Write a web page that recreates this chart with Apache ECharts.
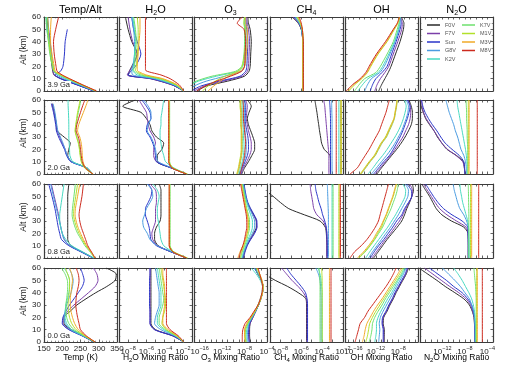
<!DOCTYPE html>
<html><head><meta charset="utf-8">
<script src="https://cdn.jsdelivr.net/npm/echarts@6/dist/echarts.min.js"></script>
<style>html,body{margin:0;padding:0;background:#fff}#c{width:520px;height:365px}</style>
</head><body><div id="c"></div>
<script>
// ---------- labels ----------
const stars = ['F0V','F7V','Sun','G8V','K2V','K7V','M1V','M3V','M8V'];
const ages = ['3.9 Ga','2.0 Ga','0.8 Ga','0.0 Ga'];
const tempTicks = [150,200,250,300,350];
const h2oTicks = [-8,-6,-4,-2];   // log10 exponents
const o3Ticks = [-16,-12,-8,-4];
const ch4Ticks = [-8,-6,-4,-2];
const ohTicks = [-16,-12,-8];
const n2oTicks = [-12,-8,-4];

// ---------- 3.9 Ga ----------
const altTempA = [0,5,10,13,16,20,30,40,50,60];
const tempA = [
 [287,242,197,178,174,172,168,166,161,158],
 [287,241,196,177,175,173,170,167,163,160],
 [286,240,195,180,195,202,206,208,214,null],
 [289,246,204,185,177,175,170,166,160,157],
 [290,250,210,190,178,175,168,163,158,156],
 [291,252,214,193,177,173,166,162,158,155],
 [292,254,217,196,178,175,168,164,162,160],
 [293,255,218,198,181,178,172,168,168,170],
 [294,256,220,200,186,183,178,176,182,190]];
const altH2OA = [0,5,10,13,17,20,30,40,50,60];
const h2oA = [
 [-1.9,-3.2,-5.5,-8.0,-7.8,-7.6,-7.0,-7.6,-8.0,-8.3],
 [-1.9,-3.2,-5.6,-8.1,-7.8,-7.5,-7.0,-7.5,-7.8,-8.0],
 [-1.9,-3.1,-5.4,-8.0,-7.6,-7.2,-6.6,-7.0,-7.4,-7.6],
 [-1.9,-3.0,-5.2,-7.5,-7.6,-7.5,-7.3,-7.3,-7.4,-7.6],
 [-1.9,-2.9,-4.9,-7.0,-7.5,-7.4,-7.3,-7.2,-7.3,-7.5],
 [-1.9,-2.8,-4.6,-6.6,-7.4,-7.3,-7.2,-7.1,-7.2,-7.4],
 [-1.9,-2.7,-4.4,-6.3,-7.2,-7.1,-7.0,-6.9,-6.9,-7.0],
 [-1.9,-2.6,-4.2,-6.0,-7.0,-7.0,-6.9,-6.8,-6.7,-6.7],
 [-1.9,-2.4,-3.4,-4.4,-6.1,-6.1,-6.1,-6.1,-6.1,-6.1]];
const altO3A = [0,4,8,12,16,20,30,40,50,55,60];
const o3A = [
 [-16.5,-14.8,-11.0,-8.0,-7.2,-7.0,-6.9,-6.8,-7.0,-7.3,-7.4],
 [-17.0,-15.2,-11.8,-8.4,-7.5,-7.3,-7.2,-7.1,-7.3,-7.5,-7.6],
 [-17.5,-15.8,-12.5,-8.8,-7.8,-7.6,-7.5,-7.4,-7.6,-7.7,-7.8],
 [-18.0,-17.0,-14.8,-11.5,-8.6,-8.0,-7.8,-7.7,-7.8,-7.9,-7.9],
 [-18.5,-18.0,-16.2,-13.0,-9.2,-8.3,-8.0,-7.9,-7.9,-8.0,-7.9],
 [-18.5,-18.0,-16.6,-13.8,-9.6,-8.5,-8.1,-8.0,-8.0,-8.1,-8.0],
 [-15.5,-14.5,-13.2,-11.5,-9.2,-8.4,-8.0,-7.8,-7.8,-8.1,-8.0],
 [-14.5,-13.5,-12.3,-10.8,-8.8,-8.0,-7.7,-7.5,-7.5,-7.8,-7.8],
 [-16.5,-15.0,-13.0,-10.5,-8.5,-8.0,-7.9,-7.8,-8.1,-9.3,-8.4]];
const altCH4A = [0,10,20,30,40,45,50,55,60];
const ch4A = [
 [-5.85,-5.85,-5.85,-5.85,-5.85,-5.9,-6.0,-6.3,-6.9],
 [-5.85,-5.85,-5.85,-5.85,-5.85,-5.9,-6.0,-6.25,-6.8],
 [-5.85,-5.85,-5.85,-5.85,-5.85,-5.9,-6.0,-6.2,-6.7],
 [-5.85,-5.85,-5.85,-5.85,-5.85,-5.9,-5.95,-6.2,-6.6],
 [-5.85,-5.85,-5.85,-5.85,-5.85,-5.9,-5.95,-6.15,-6.5],
 [-5.85,-5.85,-5.85,-5.85,-5.85,-5.85,-5.95,-6.1,-6.4],
 [-5.85,-5.85,-5.85,-5.85,-5.85,-5.85,-5.9,-6.1,-6.4],
 [-5.85,-5.85,-5.85,-5.85,-5.85,-5.85,-5.9,-6.05,-6.3],
 [-5.8,-5.8,-5.8,-5.8,-5.8,-5.85,-5.9,-6.0,-6.2]];
const altOHA = [0,5,10,15,20,30,40,50,55,60];
const ohA = [
 [-11.5,-11.0,-10.4,-9.8,-9.3,-8.5,-7.7,-7.1,-7.0,-7.5],
 [-12.2,-11.8,-11.2,-10.4,-9.7,-8.9,-8.1,-7.4,-7.3,-7.6],
 [-13.0,-12.6,-12.0,-10.9,-10.0,-9.2,-8.4,-7.7,-7.5,-7.7],
 [-14.0,-13.5,-12.8,-11.3,-10.5,-9.5,-8.6,-7.9,-7.7,-7.7],
 [-15.2,-14.4,-13.4,-11.6,-10.8,-9.7,-8.7,-8.0,-7.8,-7.7],
 [-15.8,-15.0,-14.0,-12.0,-11.2,-10.0,-8.9,-8.2,-7.9,-7.7],
 [-16.8,-15.8,-14.5,-13.5,-12.9,-11.6,-10.0,-8.7,-8.1,-7.8],
 [-17.0,-16.0,-14.6,-13.6,-13.0,-11.7,-10.1,-8.8,-8.1,-7.8],
 [-17.3,-16.2,-14.8,-13.8,-13.2,-11.9,-10.3,-8.9,-8.2,-7.8]];

// ---------- 2.0 Ga ----------
const altTempB = [0,5,10,15,20,25,30,35,40,50,57,60];
const tempB = [
 [282,268,226,215,218,222,205,186,184,178,173,null],
 [281,267,224,213,208,200,193,186,184,178,172,null],
 [281,266,223,212,206,198,190,184,182,176,170,null],
 [282,267,225,214,208,202,195,188,185,180,175,null],
 [284,268,229,221,220,219,218,218,218,217,216,216],
 [284,262,253,250,248,245,240,236,238,244,249,250],
 [283,261,252,249,247,244,239,235,237,242,247,248],
 [285,264,257,255,254,252,248,242,245,258,267,270],
 [284,263,255,252,250,248,244,238,240,250,258,262]];
const altH2OB = [0,5,10,15,20,25,30,35,40,45,50,55,60];
const h2oB = [
 [-1.6,-3.3,-4.8,-4.8,-4.3,-4.1,-4.9,-5.4,-5.6,-6.0,-6.6,-8.6,-7.2],
 [-1.6,-3.3,-4.9,-5.2,-5.2,-5.0,-5.2,-5.6,-5.8,-5.9,-6.0,-6.4,-6.8],
 [-1.6,-3.3,-4.9,-5.0,-5.1,-5.3,-5.6,-6.0,-5.9,-5.5,-5.6,-6.0,-6.5],
 [-1.6,-3.2,-4.7,-4.9,-5.0,-5.2,-5.5,-5.9,-5.8,-5.5,-5.5,-5.8,-6.3],
 [-1.6,-3.0,-3.9,-4.1,-4.3,-4.4,-4.5,-4.5,-4.4,-4.4,-4.3,-4.2,-4.1],
 [-1.5,-3.1,-3.45,-3.45,-3.45,-3.45,-3.45,-3.45,-3.45,-3.45,-3.45,-3.45,-3.45],
 [-1.5,-3.1,-3.5,-3.5,-3.5,-3.5,-3.5,-3.5,-3.5,-3.5,-3.5,-3.5,-3.5],
 [-1.6,-3.2,-3.55,-3.55,-3.55,-3.55,-3.55,-3.55,-3.55,-3.55,-3.55,-3.55,-3.55],
 [-1.6,-3.2,-3.55,-3.55,-3.55,-3.55,-3.55,-3.55,-3.55,-3.55,-3.55,-3.55,-3.55]];
const altO3B = [0,5,10,15,20,25,30,35,40,45,50,55,60];
const o3B = [
 [-8.5,-8.0,-7.3,-6.7,-6.2,-6.2,-6.5,-6.9,-7.3,-7.5,-7.2,-6.8,-7.5],
 [-8.6,-8.2,-7.6,-7.1,-6.8,-6.8,-7.0,-7.3,-7.5,-7.7,-7.6,-7.5,-7.8],
 [-8.7,-8.4,-7.9,-7.5,-7.3,-7.3,-7.4,-7.6,-7.8,-7.9,-7.8,-7.8,-8.0],
 [-8.8,-8.5,-8.1,-7.8,-7.7,-7.7,-7.8,-7.9,-8.0,-8.0,-8.0,-8.0,-8.2],
 [-9.0,-8.7,-8.4,-8.2,-8.1,-8.1,-8.2,-8.2,-8.3,-8.3,-8.3,-8.3,-8.4],
 [-9.2,-8.9,-8.7,-8.5,-8.4,-8.4,-8.4,-8.5,-8.5,-8.5,-8.5,-8.6,-8.6],
 [-9.4,-9.1,-8.9,-8.7,-8.6,-8.6,-8.6,-8.6,-8.7,-8.7,-8.7,-8.8,-8.8],
 [-9.3,-9.0,-8.8,-8.6,-8.5,-8.5,-8.5,-8.5,-8.6,-8.6,-8.6,-8.7,-8.7],
 [-8.8,-8.5,-8.2,-8.0,-7.9,-7.8,-7.9,-8.0,-8.1,-8.2,-8.2,-8.2,-8.3]];
const altCH4B = [0,10,15,20,25,30,35,40,45,50,55,60];
const ch4B = [
 [-3.2,-3.2,-3.25,-3.8,-4.05,-4.15,-4.25,-4.33,-4.42,-4.5,-4.6,-4.7],
 [-3.35,-3.35,-3.35,-3.4,-3.45,-3.5,-3.55,-3.6,-3.65,-3.7,-3.75,-3.85],
 [-3.2,-3.2,-3.2,-3.2,-3.2,-3.2,-3.2,-3.2,-3.2,-3.22,-3.25,-3.3],
 [-3.05,-3.05,-3.05,-3.05,-3.05,-3.05,-3.05,-3.05,-3.05,-3.07,-3.08,-3.1],
 [-2.4,-2.4,-2.4,-2.4,-2.4,-2.4,-2.4,-2.4,-2.4,-2.4,-2.4,-2.4],
 [-2.25,-2.25,-2.25,-2.25,-2.25,-2.25,-2.25,-2.25,-2.25,-2.25,-2.25,-2.25],
 [-2.15,-2.15,-2.15,-2.15,-2.15,-2.15,-2.15,-2.15,-2.15,-2.15,-2.15,-2.15],
 [-2.2,-2.2,-2.2,-2.2,-2.2,-2.2,-2.2,-2.2,-2.2,-2.2,-2.2,-2.2],
 [-2.65,-2.65,-2.65,-2.65,-2.65,-2.65,-2.65,-2.65,-2.65,-2.65,-2.65,-2.65]];
const altOHB = [0,5,10,15,20,25,30,35,40,45,50,55,60];
const ohB = [
 [-11.8,-11.0,-10.1,-9.2,-8.3,-7.5,-6.8,-6.2,-5.7,-5.5,-5.5,-5.7,-6.1],
 [-12.1,-11.2,-10.3,-9.4,-8.6,-7.9,-7.2,-6.7,-6.2,-5.9,-5.8,-5.9,-6.3],
 [-12.4,-11.5,-10.6,-9.6,-8.9,-8.3,-7.7,-7.2,-6.8,-6.4,-6.1,-5.9,-6.4],
 [-12.8,-11.9,-11.0,-10.1,-9.3,-8.6,-8.0,-7.4,-7.0,-6.6,-6.3,-6.2,-6.6],
 [-13.4,-12.5,-11.7,-10.8,-10.0,-9.3,-8.6,-8.0,-7.5,-7.1,-6.8,-6.6,-6.9],
 [-14.6,-13.8,-13.0,-12.1,-11.5,-10.9,-10.1,-9.6,-9.1,-8.7,-8.5,-8.3,-8.2],
 [-14.8,-14.0,-13.2,-12.3,-11.7,-11.1,-10.3,-9.8,-9.3,-8.8,-8.6,-8.4,-8.25],
 [-14.7,-13.9,-13.1,-12.2,-11.6,-11.0,-10.2,-9.7,-9.2,-8.75,-8.55,-8.35,-8.2],
 [-16.6,-15.3,-14.6,-13.9,-13.2,-12.6,-12.0,-11.4,-11.0,-10.6,-10.2,-9.9,-9.6]];
const altN2OB = [0,5,10,15,20,25,30,35,40,45,50,55,60];
const n2oB = [
 [-8.0,-8.1,-8.3,-9.5,-11.2,-12.1,-12.9,-13.5,-14.3,-15.0,-15.4,-15.8,-16.0],
 [-8.0,-8.1,-8.4,-9.6,-11.1,-12.1,-12.8,-13.5,-14.2,-14.9,-15.4,-15.6,-15.8],
 [-8.0,-8.05,-8.2,-9.0,-10.3,-11.5,-12.3,-13.0,-13.8,-14.5,-15.1,-15.5,-15.7],
 [-7.7,-7.75,-7.9,-8.2,-8.7,-9.0,-9.3,-9.7,-10.0,-10.4,-10.8,-11.1,-11.4],
 [-7.6,-7.6,-7.65,-7.75,-7.9,-8.1,-8.3,-8.5,-8.7,-8.9,-9.1,-9.3,-9.4],
 [-7.5,-7.5,-7.5,-7.5,-7.5,-7.55,-7.6,-7.6,-7.65,-7.7,-7.7,-7.75,-7.8],
 [-7.4,-7.4,-7.4,-7.4,-7.4,-7.4,-7.4,-7.4,-7.4,-7.4,-7.4,-7.4,-7.4],
 [-7.25,-7.25,-7.25,-7.25,-7.25,-7.25,-7.25,-7.25,-7.25,-7.25,-7.25,-7.25,-7.25],
 [-5.8,-5.8,-5.8,-5.8,-5.8,-5.8,-5.8,-5.8,-5.8,-5.8,-5.8,-5.8,-5.8]];

// ---------- 0.8 Ga ----------
const altTempC = [0,5,10,15,20,25,30,35,40,50,60];
const tempC = [
 [286,254,224,215,215,215,215,215,215,215,218],
 [285,252,220,206,200,196,193,190,186,178,170],
 [284,251,218,198,193,189,186,183,180,172,163],
 [285,253,221,205,200,196,192,188,184,176,168],
 [286,256,226,210,200,196,193,193,195,200,205],
 [288,276,262,252,242,235,230,227,228,232,236],
 [289,278,265,255,246,239,234,231,232,237,242],
 [290,279,267,258,250,243,238,235,236,242,248],
 [290,280,270,264,258,252,248,246,248,254,258]];
const altH2OC = [0,5,10,15,20,25,30,35,40,45,50,55,60];
const h2oC = [
 [-1.6,-3.3,-4.7,-5.1,-5.1,-4.9,-4.5,-4.4,-4.4,-4.4,-4.4,-4.4,-4.6],
 [-1.6,-3.3,-4.8,-5.3,-5.4,-5.2,-5.0,-5.0,-5.0,-4.9,-4.9,-5.0,-5.6],
 [-1.6,-3.3,-4.9,-5.5,-5.6,-5.7,-5.9,-6.1,-6.1,-5.8,-5.5,-5.4,-5.8],
 [-1.6,-3.2,-4.8,-5.6,-5.9,-6.3,-6.4,-6.2,-6.0,-5.6,-5.3,-5.4,-5.9],
 [-1.6,-3.1,-4.1,-4.4,-4.5,-4.6,-4.7,-4.8,-4.8,-4.7,-4.6,-4.8,-5.3],
 [-1.5,-3.0,-3.4,-3.4,-3.4,-3.4,-3.4,-3.4,-3.4,-3.4,-3.4,-3.4,-3.4],
 [-1.5,-3.0,-3.45,-3.45,-3.45,-3.45,-3.45,-3.45,-3.45,-3.45,-3.45,-3.45,-3.45],
 [-1.6,-3.1,-3.5,-3.5,-3.5,-3.5,-3.5,-3.5,-3.5,-3.5,-3.5,-3.5,-3.5],
 [-1.6,-3.1,-3.5,-3.5,-3.5,-3.5,-3.5,-3.5,-3.5,-3.5,-3.5,-3.5,-3.5]];
const altO3C = [0,5,10,15,20,25,30,35,40,45,50,55,60];
const o3C = [
 [-8.3,-8.0,-7.6,-7.0,-6.4,-5.9,-5.9,-6.4,-7.0,-7.5,-7.8,-8.0,-8.2],
 [-8.3,-8.0,-7.6,-7.0,-6.3,-5.8,-5.9,-6.4,-7.0,-7.5,-7.8,-8.0,-8.2],
 [-8.2,-7.9,-7.5,-6.9,-6.2,-5.8,-5.8,-6.3,-6.9,-7.4,-7.7,-7.9,-8.1],
 [-8.4,-8.1,-7.7,-7.2,-6.6,-6.2,-6.2,-6.6,-7.1,-7.5,-7.8,-8.0,-8.2],
 [-8.5,-8.2,-7.8,-7.4,-6.9,-6.6,-6.6,-6.9,-7.3,-7.6,-7.9,-8.1,-8.3],
 [-8.7,-8.4,-8.0,-7.6,-7.3,-7.1,-7.1,-7.3,-7.6,-7.8,-8.0,-8.2,-8.4],
 [-8.8,-8.5,-8.1,-7.8,-7.5,-7.3,-7.3,-7.5,-7.7,-7.9,-8.1,-8.3,-8.5],
 [-9.2,-8.8,-8.3,-7.9,-7.6,-7.4,-7.4,-7.5,-7.8,-8.0,-8.2,-8.4,-8.6],
 [-9.0,-8.7,-8.3,-8.0,-7.8,-7.6,-7.6,-7.7,-7.9,-8.1,-8.3,-8.5,-8.7]];
const altCH4C = [0,10,20,25,30,35,40,45,50,55,60];
const ch4C = [
 [-3.55,-3.55,-3.6,-3.7,-4.2,-5.7,-7.2,-8.0,-8.7,-9.5,-10.3],
 [-3.55,-3.55,-3.55,-3.65,-3.9,-4.5,-4.8,-4.9,-5.0,-5.1,-5.15],
 [-3.5,-3.5,-3.55,-3.6,-3.75,-3.95,-4.1,-4.3,-4.45,-4.6,-4.67],
 [-3.4,-3.4,-3.4,-3.4,-3.4,-3.4,-3.42,-3.44,-3.46,-3.48,-3.5],
 [-3.05,-3.05,-3.05,-3.05,-3.05,-3.05,-3.05,-3.05,-3.05,-3.05,-3.05],
 [-2.95,-2.95,-2.95,-2.95,-2.95,-2.95,-2.95,-2.95,-2.95,-2.95,-2.95],
 [-2.4,-2.4,-2.4,-2.4,-2.4,-2.4,-2.4,-2.4,-2.4,-2.4,-2.4],
 [-2.3,-2.3,-2.3,-2.3,-2.3,-2.3,-2.3,-2.3,-2.3,-2.3,-2.3],
 [-2.25,-2.25,-2.25,-2.25,-2.25,-2.25,-2.25,-2.25,-2.25,-2.25,-2.25]];
const altOHC = [0,5,10,15,20,25,30,35,40,45,50,55,60];
const ohC = [
 [-12.4,-11.6,-10.8,-10.0,-9.1,-8.2,-7.4,-6.9,-6.5,-6.0,-5.6,-5.3,-5.5],
 [-12.7,-11.9,-11.1,-10.3,-9.4,-8.6,-7.8,-7.2,-6.7,-6.1,-5.6,-5.5,-6.0],
 [-13.0,-12.3,-11.5,-10.6,-9.8,-9.0,-8.3,-7.4,-6.9,-6.2,-5.6,-5.7,-6.5],
 [-13.3,-12.6,-11.8,-11.0,-10.2,-9.4,-8.7,-8.0,-7.4,-6.8,-6.3,-6.2,-6.8],
 [-13.8,-13.1,-12.3,-11.5,-10.7,-9.9,-9.2,-8.5,-7.9,-7.3,-6.8,-6.7,-7.2],
 [-15.0,-13.9,-13.0,-12.2,-11.5,-10.8,-10.3,-9.8,-9.3,-8.9,-8.5,-8.2,-8.0],
 [-15.1,-14.0,-13.1,-12.3,-11.7,-11.0,-10.6,-10.1,-9.7,-9.3,-8.9,-8.6,-8.3],
 [-15.3,-14.2,-13.3,-12.5,-11.9,-11.2,-10.7,-10.2,-9.8,-9.4,-9.0,-8.7,-8.4],
 [-16.6,-15.8,-14.6,-13.6,-12.8,-12.1,-11.55,-11.25,-10.95,-10.65,-10.35,-10.05,-9.75]];
const altN2OC = [0,10,20,25,30,35,40,45,50,55,60];
const n2oC = [
 [-7.4,-7.4,-7.45,-8.2,-10.4,-12.1,-13.1,-13.7,-14.3,-15.0,-15.7],
 [-7.4,-7.4,-7.45,-7.8,-9.5,-11.2,-12.5,-13.3,-14.0,-14.7,-15.4],
 [-7.4,-7.4,-7.45,-7.5,-8.5,-10.3,-11.8,-12.8,-13.6,-14.3,-15.0],
 [-7.3,-7.3,-7.35,-7.4,-7.7,-8.2,-8.9,-9.3,-9.6,-9.9,-10.1],
 [-7.3,-7.3,-7.3,-7.35,-7.5,-7.8,-8.1,-8.4,-8.6,-8.8,-8.9],
 [-7.3,-7.3,-7.3,-7.3,-7.3,-7.3,-7.32,-7.34,-7.36,-7.38,-7.4],
 [-7.0,-7.0,-7.0,-7.0,-7.0,-7.0,-7.0,-7.0,-7.0,-7.0,-7.0],
 [-6.8,-6.8,-6.8,-6.8,-6.8,-6.8,-6.8,-6.8,-6.8,-6.8,-6.8],
 [-5.55,-5.55,-5.55,-5.55,-5.55,-5.55,-5.55,-5.55,-5.55,-5.55,-5.55]];

// ---------- 0.0 Ga ----------
const altTempD = [0,5,10,15,20,25,30,35,40,45,50,55,60];
const tempD = [
 [287,258,225,205,205,222,240,265,292,322,345,348,320],
 [287,255,220,202,203,215,232,252,272,290,298,295,285],
 [287,254,218,200,202,210,220,232,244,255,260,256,250],
 [288,256,222,208,205,208,212,218,224,228,230,226,218],
 [288,258,226,212,208,208,210,214,218,220,220,215,205],
 [289,260,232,218,212,210,210,212,214,215,214,208,198],
 [289,262,238,226,220,217,216,217,219,220,220,215,208],
 [290,264,244,234,228,224,222,222,224,226,228,226,220],
 [290,266,250,246,242,239,237,238,240,244,246,244,238]];
const altH2OD = [0,5,10,15,20,25,30,35,40,45,50,55,60];
const h2oD = [
 [-1.9,-3.1,-5.0,-5.5,-5.5,-5.5,-5.5,-5.5,-5.5,-5.5,-5.5,-5.5,-5.5],
 [-1.9,-3.1,-5.1,-5.6,-5.6,-5.6,-5.6,-5.6,-5.6,-5.6,-5.6,-5.6,-5.6],
 [-1.9,-3.1,-5.1,-5.6,-5.6,-5.6,-5.65,-5.65,-5.65,-5.65,-5.65,-5.6,-5.6],
 [-1.9,-2.9,-4.4,-5.1,-5.0,-4.8,-4.6,-4.6,-4.6,-4.7,-4.8,-4.9,-5.0],
 [-1.9,-2.8,-4.1,-4.8,-4.8,-4.6,-4.4,-4.4,-4.4,-4.5,-4.6,-4.7,-4.8],
 [-1.9,-2.7,-3.9,-4.6,-4.6,-4.4,-4.2,-4.1,-4.2,-4.3,-4.4,-4.5,-4.6],
 [-1.9,-2.7,-3.8,-4.3,-4.2,-4.0,-3.9,-3.9,-4.0,-4.1,-4.2,-4.3,-4.4],
 [-1.9,-2.6,-3.6,-4.2,-4.2,-4.1,-4.0,-4.0,-4.0,-4.0,-4.1,-4.2,-4.2],
 [-1.9,-2.5,-3.4,-3.8,-3.8,-3.8,-3.8,-3.8,-3.8,-3.8,-3.8,-3.8,-3.8]];
const altO3D = [0,5,10,15,20,25,30,35,40,45,50,55,60];
const o3D = [
 [-7.0,-7.1,-7.1,-7.0,-6.5,-6.0,-5.5,-5.1,-4.8,-4.7,-5.0,-5.6,-6.2],
 [-7.1,-7.2,-7.2,-7.0,-6.5,-6.0,-5.5,-5.1,-4.8,-4.7,-5.0,-5.6,-6.2],
 [-7.2,-7.3,-7.3,-7.1,-6.6,-6.0,-5.5,-5.1,-4.8,-4.7,-5.0,-5.6,-6.2],
 [-7.4,-7.5,-7.4,-7.2,-6.6,-6.0,-5.5,-5.1,-4.8,-4.7,-5.0,-5.6,-6.3],
 [-7.6,-7.7,-7.6,-7.3,-6.7,-6.1,-5.6,-5.2,-4.9,-4.8,-5.2,-5.9,-6.8],
 [-7.8,-7.9,-7.8,-7.4,-6.8,-6.1,-5.6,-5.1,-4.8,-4.7,-5.0,-5.5,-6.0],
 [-7.7,-7.9,-7.9,-7.5,-6.8,-6.1,-5.5,-5.1,-4.8,-4.7,-4.9,-5.3,-5.8],
 [-7.9,-8.0,-8.0,-7.6,-6.9,-6.2,-5.6,-5.1,-4.8,-4.7,-4.9,-5.3,-5.7],
 [-8.4,-8.4,-8.3,-7.9,-7.0,-6.3,-5.6,-5.2,-4.9,-4.8,-5.0,-5.3,-5.6]];
const altCH4D = [0,10,20,30,35,40,45,50,55,60];
const ch4D = [
 [-5.5,-5.5,-5.5,-5.5,-5.55,-6.3,-7.3,-8.5,-9.5,-10.3],
 [-5.45,-5.45,-5.45,-5.45,-5.5,-5.8,-6.3,-6.9,-7.4,-7.9],
 [-5.4,-5.4,-5.4,-5.4,-5.45,-5.6,-6.0,-6.5,-7.0,-7.4],
 [-4.1,-4.1,-4.1,-4.1,-4.1,-4.12,-4.15,-4.2,-4.35,-4.6],
 [-4.0,-4.0,-4.0,-4.0,-4.0,-4.0,-4.05,-4.1,-4.2,-4.4],
 [-4.2,-4.2,-4.2,-4.2,-4.2,-4.2,-4.2,-4.22,-4.25,-4.3],
 [-4.0,-4.0,-4.0,-4.0,-4.0,-4.0,-4.0,-4.0,-4.02,-4.05],
 [-3.3,-3.3,-3.3,-3.3,-3.3,-3.3,-3.3,-3.3,-3.3,-3.3],
 [-3.15,-3.15,-3.15,-3.15,-3.15,-3.15,-3.15,-3.15,-3.15,-3.15]];
const altOHD = [0,5,10,15,20,25,30,35,40,45,50,55,60];
const ohD = [
 [-10.5,-10.5,-10.5,-10.7,-10.6,-10.0,-9.5,-8.9,-8.4,-7.8,-7.2,-6.6,-6.2],
 [-10.6,-10.6,-10.6,-10.8,-10.7,-10.1,-9.6,-9.0,-8.5,-7.9,-7.3,-6.7,-6.3],
 [-10.7,-10.7,-10.7,-10.9,-10.8,-10.2,-9.7,-9.1,-8.6,-8.0,-7.4,-6.8,-6.4],
 [-11.5,-11.4,-11.3,-11.4,-11.2,-10.7,-10.1,-9.5,-8.9,-8.3,-7.7,-7.1,-6.6],
 [-12.2,-12.0,-11.9,-11.9,-11.6,-11.1,-10.5,-9.9,-9.2,-8.6,-8.0,-7.3,-6.8],
 [-13.2,-12.9,-12.7,-12.6,-12.2,-11.6,-10.9,-10.3,-9.6,-8.9,-8.2,-7.5,-7.0],
 [-13.8,-13.5,-13.3,-13.1,-12.6,-12.0,-11.3,-10.6,-9.9,-9.2,-8.5,-7.8,-7.2],
 [-14.4,-14.1,-13.9,-13.6,-13.0,-12.4,-11.7,-10.9,-10.2,-9.5,-8.8,-8.1,-7.5],
 [-15.7,-15.4,-15.1,-14.8,-14.0,-13.4,-12.6,-11.8,-11.0,-10.2,-9.5,-8.9,-8.4]];
const altN2OD = [0,10,20,25,30,35,40,45,50,55,60];
const n2oD = [
 [-6.2,-6.25,-6.4,-6.7,-7.2,-8.2,-9.8,-11.5,-13.0,-14.6,-16.2],
 [-6.2,-6.25,-6.35,-6.6,-7.0,-7.8,-9.1,-10.7,-12.2,-13.7,-15.2],
 [-6.2,-6.2,-6.3,-6.5,-6.8,-7.5,-8.5,-10.0,-11.3,-12.8,-14.3],
 [-6.2,-6.2,-6.3,-6.45,-6.8,-7.2,-8.0,-8.8,-9.8,-10.9,-12.0],
 [-6.1,-6.1,-6.2,-6.3,-6.5,-6.8,-7.3,-7.9,-8.5,-9.2,-10.0],
 [-6.0,-6.0,-6.0,-6.0,-6.0,-6.0,-6.05,-6.1,-6.2,-6.3,-6.4],
 [-5.9,-5.9,-5.9,-5.9,-5.9,-5.9,-5.9,-5.9,-5.9,-5.9,-5.9],
 [-5.8,-5.8,-5.8,-5.8,-5.8,-5.8,-5.8,-5.8,-5.8,-5.8,-5.8],
 [-4.9,-4.9,-4.9,-4.9,-4.9,-4.9,-4.9,-4.9,-4.9,-4.9,-4.9]];

// ---------- layout / style ----------
const colors = ['#2a2a2a','#7b3fa8','#2a35c8','#4a9be0','#46d8c0','#6ee06e','#b2e02a','#f0aa28','#cc2a1e'];
const F = 'Liberation Sans, Arial, Helvetica, sans-serif';
const colLeft = [44,119,194,270,345,420];
const rowTop = [17,100,184,268];
const PW = 73, PH = 74;
const frameC = '#3c3c3c';
const xRange = [[150,350],[-9,-1],[-17,-4],[-9,-2],[-17.5,-4.5],[-16,-3]];
const xLabelVals = [tempTicks,h2oTicks,o3Ticks,ch4Ticks,ohTicks,n2oTicks];

const panels = [
 {r:0,c:0,alt:altTempA,v:tempA},{r:0,c:1,alt:altH2OA,v:h2oA},{r:0,c:2,alt:altO3A,v:o3A},{r:0,c:3,alt:altCH4A,v:ch4A},{r:0,c:4,alt:altOHA,v:ohA},
 {r:1,c:0,alt:altTempB,v:tempB},{r:1,c:1,alt:altH2OB,v:h2oB},{r:1,c:2,alt:altO3B,v:o3B},{r:1,c:3,alt:altCH4B,v:ch4B},{r:1,c:4,alt:altOHB,v:ohB},{r:1,c:5,alt:altN2OB,v:n2oB},
 {r:2,c:0,alt:altTempC,v:tempC},{r:2,c:1,alt:altH2OC,v:h2oC},{r:2,c:2,alt:altO3C,v:o3C},{r:2,c:3,alt:altCH4C,v:ch4C},{r:2,c:4,alt:altOHC,v:ohC},{r:2,c:5,alt:altN2OC,v:n2oC},
 {r:3,c:0,alt:altTempD,v:tempD},{r:3,c:1,alt:altH2OD,v:h2oD},{r:3,c:2,alt:altO3D,v:o3D},{r:3,c:3,alt:altCH4D,v:ch4D},{r:3,c:4,alt:altOHD,v:ohD},{r:3,c:5,alt:altN2OD,v:n2oD}
];

const supRich = {
  b:{fontSize:8,fontFamily:F,color:'#222',lineHeight:11,verticalAlign:'bottom'},
  s:{fontSize:5.5,fontFamily:F,color:'#222',lineHeight:11,verticalAlign:'top'}
};
const logFmt = v => '{b|10}{s|' + (v < 0 ? '\u2212' : '') + Math.abs(v) + '}';

const option = {animation:false, grid:[], xAxis:[], yAxis:[], series:[], graphic:[], legend:[]};

for (let r = 0; r < 4; r++) for (let c = 0; c < 6; c++) {
  const g = r*6 + c;
  option.grid.push({left:colLeft[c], top:rowTop[r], width:PW, height:PH});
  const [mn, mx] = xRange[c];
  const isTemp = c === 0;
  let tv;
  if (!isTemp) { tv = []; for (let k = Math.ceil(mn); k <= Math.floor(mx); k++) tv.push(k); }
  const mkX = (pos, showLab) => ({
    gridIndex:g, type:'value', position:pos, min:mn, max:mx,
    interval: isTemp ? 50 : undefined,
    axisLine:{show:true, onZero:false, lineStyle:{color:frameC, width:1.2}},
    axisTick:{show:true, inside:true, length:2.5, lineStyle:{color:frameC, width:0.8}, customValues: tv},
    minorTick:{show:isTemp, splitNumber:5, length:1.3, lineStyle:{color:frameC, width:0.6}},
    splitLine:{show:false},
    axisLabel:{show:showLab, margin:3, fontSize:8, color:'#222', fontFamily:F,
      customValues: isTemp ? undefined : xLabelVals[c],
      formatter: isTemp ? (v => String(v)) : logFmt, rich: supRich, hideOverlap:false}
  });
  option.xAxis.push(mkX('bottom', r === 3));
  option.xAxis.push(mkX('top', false));
  const mkY = (pos, showLab) => ({
    gridIndex:g, type:'value', position:pos, min:0, max:60, interval:10,
    axisLine:{show:true, onZero:false, lineStyle:{color:frameC, width:1.2}},
    axisTick:{show:true, inside:true, length:2.5, lineStyle:{color:frameC, width:0.8}},
    minorTick:{show:true, splitNumber:2, length:1.3, lineStyle:{color:frameC, width:0.6}},
    splitLine:{show:false},
    axisLabel:{show:showLab, margin:3, fontSize:8, color:'#222', fontFamily:F}
  });
  option.yAxis.push(mkY('left', c === 0));
  option.yAxis.push(mkY('right', false));
}

panels.forEach(p => {
  const g = p.r*6 + p.c;
  p.v.forEach((vals, i) => {
    const data = [];
    vals.forEach((x, k) => { if (x !== null) data.push([x, p.alt[k]]); });
    option.series.push({type:'line', name:stars[i], xAxisIndex:2*g, yAxisIndex:2*g, data,
      symbol:'none', showSymbol:false, smooth:0.25, clip:true, silent:true,
      lineStyle:{color:colors[i], width:1}, itemStyle:{color:colors[i]}});
  });
});

// legends (two columns inside the empty N2O panel)
const legBase = {orient:'vertical', top:22, itemWidth:13, itemHeight:1.5, itemGap:2.5, icon:'rect',
  selectedMode:false, padding:0, textStyle:{fontSize:5.5, lineHeight:6, color:'#555', fontFamily:F}};
option.legend.push(Object.assign({}, legBase, {left:427, data:stars.slice(0,5)}));
option.legend.push(Object.assign({}, legBase, {left:462, data:stars.slice(5)}));

// column titles
const titleRich = {
  n:{fontSize:11, fontFamily:F, color:'#111', lineHeight:14, verticalAlign:'middle'},
  s:{fontSize:7, fontFamily:F, color:'#111', lineHeight:14, verticalAlign:'bottom'}
};
const colTitles = ['{n|Temp/Alt}','{n|H}{s|2}{n|O}','{n|O}{s|3}','{n|CH}{s|4}','{n|OH}','{n|N}{s|2}{n|O}'];
const xNames = ['{n|Temp (K)}','{n|H}{s|2}{n|O Mixing Ratio}','{n|O}{s|3}{n| Mixing Ratio}','{n|CH}{s|4}{n| Mixing Ratio}','{n|OH Mixing Ratio}','{n|N}{s|2}{n|O Mixing Ratio}'];
const nameRich = {
  n:{fontSize:8.5, fontFamily:F, color:'#222', lineHeight:11, verticalAlign:'middle'},
  s:{fontSize:6, fontFamily:F, color:'#222', lineHeight:11, verticalAlign:'bottom'}
};
for (let c = 0; c < 6; c++) {
  option.graphic.push({type:'text', x:colLeft[c]+PW/2, y:10, z:10,
    style:{text:colTitles[c], rich:titleRich, align:'center', verticalAlign:'middle'}});
  option.graphic.push({type:'text', x:colLeft[c]+PW/2, y:358, z:10,
    style:{text:xNames[c], rich:nameRich, align:'center', verticalAlign:'middle'}});
}
for (let r = 0; r < 4; r++) {
  option.graphic.push({type:'text', x:24, y:rowTop[r]+PH/2-4, rotation:Math.PI/2, z:10,
    style:{text:'Alt (km)', font:'8.5px ' + F, fill:'#222', align:'center', verticalAlign:'middle'}});
  option.graphic.push({type:'text', x:46.5, y:rowTop[r]+PH-6, z:10,
    style:{text:ages[r], font:'7.5px ' + F, fill:'#222', align:'left', verticalAlign:'middle',
      backgroundColor:'#fff', padding:[0,1,0,1]}});
}

const chart = echarts.init(document.getElementById('c'), null, {renderer:'canvas'});
chart.setOption(option);
</script>
</body></html>
